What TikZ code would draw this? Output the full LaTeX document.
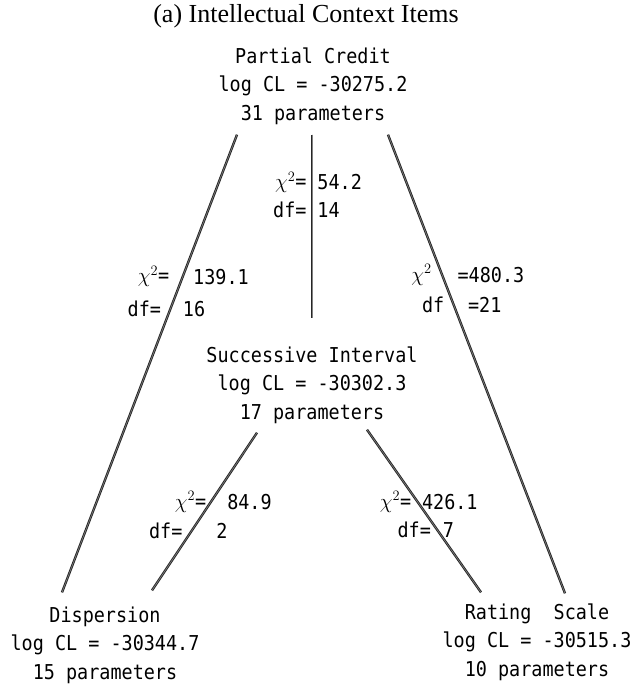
\documentclass[tikz,border=0pt]{standalone}
\usepackage{fontspec}
\setmainfont{Liberation Serif}
\newfontfamily\typefont[FakeStretch=0.9]{DejaVu Sans Mono}
\usetikzlibrary{calc}
\tikzset{
  model/.style={font=\typefont\fontsize{20.5}{28.5}\selectfont,align=center,inner sep=0pt},
  link/.style={draw=black!85,double=black!50,double distance=0.6pt,line width=0.9pt},
  stat/.style={font=\typefont\fontsize{20.5}{28.5}\selectfont,inner sep=0pt},
}
\begin{document}
\begin{tikzpicture}[x=1pt,y=-1pt]
  \useasboundingbox (0,0) rectangle (631,688);
  \node[font=\fontsize{26}{30}\selectfont] (title) at (306,16) {(a) Intellectual Context Items};
  % models
  \node[model] (pc) at (313,86) {Partial Credit\\log CL = -30275.2\\31 parameters};
  \node[model] (si) at (312,385) {Successive Interval\\log CL = -30302.3\\17 parameters};
  \node[model] (disp) at (105,645) {Dispersion\\log CL = -30344.7\\15 parameters};
  \node[model] (rs) at (537,642) {Rating\ \ Scale\\log CL = -30515.3\\10 parameters};
  % tests between models
  \draw[link] ($(pc.south)+(-1,10)$) -- ($(si.north)+(0,-28)$)
    node[stat,pos=.26,anchor=east,xshift=-5] {$\chi^2$=}
    node[stat,pos=.26,anchor=west,xshift=5] {54.2}
    node[stat,pos=.41,anchor=east,xshift=-5] {df=}
    node[stat,pos=.41,anchor=west,xshift=5] {14};
  \draw[link] ($(pc.south)+(-76,10)$) -- ($(disp.north)+(-43,-14)$)
    node[stat,pos=.31,anchor=east,xshift=-13] {$\chi^2$=}
    node[stat,pos=.31,anchor=west,xshift=10] {139.1}
    node[stat,pos=.38,anchor=east,xshift=-9] {df=}
    node[stat,pos=.38,anchor=west,xshift=12] {16};
  \draw[link] ($(pc.south)+(75,10)$) -- ($(rs.north)+(28,-10)$)
    node[stat,pos=.306,anchor=east,xshift=-10] {$\chi^2$}
    node[stat,pos=.306,anchor=west,xshift=15] {=480.3}
    node[stat,pos=.371,anchor=east,xshift=-9] {df}
    node[stat,pos=.371,anchor=west,xshift=14] {=21};
  \draw[link] ($(si.south)+(-55,9)$) -- ($(disp.north)+(47,-16)$)
    node[stat,pos=.44,anchor=east,xshift=-4] {$\chi^2$=}
    node[stat,pos=.44,anchor=west,xshift=16] {84.9}
    node[stat,pos=.62,anchor=east,xshift=-9] {df=}
    node[stat,pos=.62,anchor=west,xshift=24] {2};
  \draw[link] ($(si.south)+(55,6)$) -- ($(rs.north)+(-56,-11)$)
    node[stat,pos=.444,anchor=east,xshift=-6] {$\chi^2$=}
    node[stat,pos=.444,anchor=west,xshift=4] {426.1}
    node[stat,pos=.617,anchor=east,xshift=-6] {df=}
    node[stat,pos=.617,anchor=west,xshift=5] {7};
\end{tikzpicture}
\end{document}
